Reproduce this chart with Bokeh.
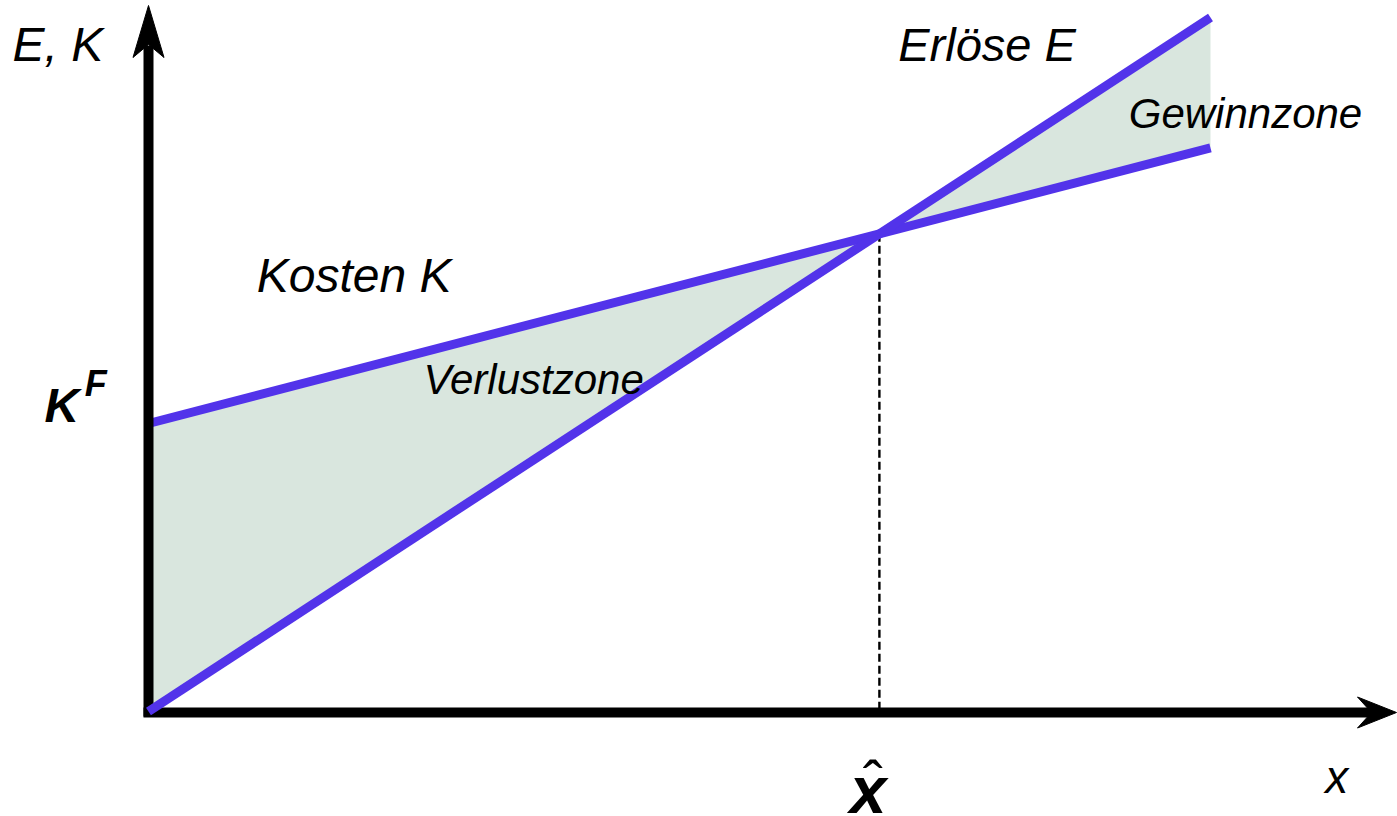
from bokeh.plotting import figure
from bokeh.models import Range1d
from bokeh.core.properties import value
from bokeh.embed import file_html
from bokeh.resources import INLINE

# ---- data ----
menge = [0, 100]          # x
erloese = [0, 100]        # E(x)
kosten = [41.5, 81.2]     # K(x), K(0) = K^F

# break-even point (intersection of both lines)
k_slope = (kosten[1] - kosten[0]) / (menge[1] - menge[0])
e_slope = (erloese[1] - erloese[0]) / (menge[1] - menge[0])
x_hat = (kosten[0] - erloese[0]) / (e_slope - k_slope)
y_hat = erloese[0] + e_slope * x_hat

# ---- layout scale (pixels per data unit) ----
PX = 10.62
PY = 6.94
W, H = 1397, 816
ORIG_X, ORIG_Y = 148, 711          # origin in figure pixels
x0 = -ORIG_X / PX
x1 = (W - ORIG_X) / PX
y1 = ORIG_Y / PY
y0 = -(H - ORIG_Y) / PY

FONT = value("Liberation Sans")
LINE_COL = "#5233ea"
FILL_COL = "#d9e6de"

p = figure(width=W, height=H, x_range=Range1d(x0, x1), y_range=Range1d(y0, y1),
           x_axis_type=None, y_axis_type=None, output_backend="svg",
           toolbar_location=None, min_border=0)
p.grid.visible = False
p.outline_line_color = None
p.background_fill_color = "white"

# shaded zones between the two lines
p.varea(x=menge, y1=erloese, y2=kosten, fill_color=FILL_COL)

# dashed guide at break-even
p.line([x_hat, x_hat], [y_hat, 0], line_color="black", line_width=2.4, line_dash="8 4")

# cost line
p.line(menge, kosten, line_color=LINE_COL, line_width=9)

# axes with arrow heads
AX_W = 10
# vertical axis
v_tip = y1 - 5 / PY
p.line([0, 0], [-5 / PY, v_tip - 40 / PY], line_color="black", line_width=AX_W)
p.patch([0, 15.5 / PX, 0, -15.5 / PX],
        [v_tip, v_tip - 52 / PY, v_tip - 39 / PY, v_tip - 52 / PY],
        fill_color="black", line_color="black", line_width=1)
# horizontal axis
h_tip = x1 - 1 / PX
p.line([-5 / PX, h_tip - 24 / PX], [-1 / PY, -1 / PY], line_color="black", line_width=AX_W)
p.patch([h_tip, h_tip - 39 / PX, h_tip - 25 / PX, h_tip - 39 / PX],
        [-1 / PY, -1 / PY + 15.5 / PY, -1 / PY, -1 / PY - 15.5 / PY],
        fill_color="black", line_color="black", line_width=1)

# revenue line (on top)
p.line(menge, erloese, line_color=LINE_COL, line_width=9)

def label(x, y, t, size, style="italic", align="left"):
    p.text(x=[x], y=[y], text=[t], text_font=FONT, text_font_size=f"{size}px",
           text_font_style=style, text_color="black", text_align=align,
           text_baseline="alphabetic")

label(-12.8, 96.1, "E, K", 48)
label(70.6, 96.1, "Erlöse E", 47)
label(92.3, 86.2, "Gewinnzone", 42)
label(10.2, 62.8, "Kosten K", 48)
label(25.9, 47.8, "Verlustzone", 42)
label(-9.8, 44.1, "K", 48, "bold italic")
label(-6.0, 47.3, "F", 36, "bold italic")
label(110.8, -9.5, "x", 46)
label(x_hat - 2.8, -11.3, "x", 66, "bold italic")
label(x_hat - 0.6, -10.3, "ˆ", 60, "normal", "center")

open("out.html", "w").write(file_html(p, INLINE))
